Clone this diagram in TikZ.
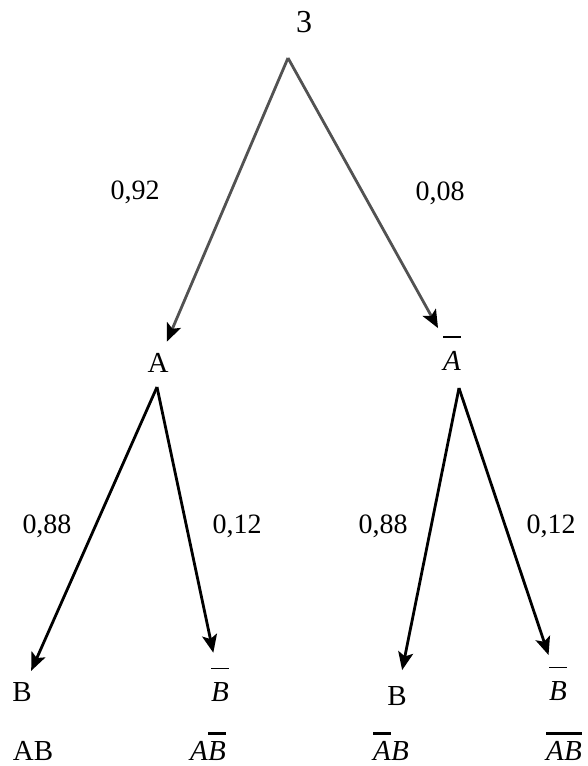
\documentclass[tikz,border=0pt]{standalone}
\usepackage{fontspec}
\setmainfont{Liberation Serif}
\usetikzlibrary{arrows.meta}
\tikzset{
  tr event/.style={inner sep=0pt,anchor=base,font=\fontsize{29}{32}\selectfont},
  tr prob/.style={inner sep=0pt,anchor=base,font=\fontsize{28}{32}\selectfont},
  tr edge/.style={black,line width=2.8pt,shorten >=12pt,
    -{Stealth[length=18pt,width=15pt,inset=4pt]}},
  tr top edge/.style={tr edge,draw=black!68,
    -{Stealth[length=18pt,width=15pt,inset=4pt,color=black]}}
}
\newcommand{\trbar}[3]{\vbox{\hrule height #1\kern #2\hbox{#3}}}

\begin{document}
\begin{tikzpicture}[x=1pt,y=-1pt]
  \useasboundingbox (0,0) rectangle (588,766);
  \node[tr event,font=\fontsize{32}{36}\selectfont] (t) at (304,32) {3};
  \coordinate (root) at (288,58);
  \node[tr event] (a) at (158,372) {A};
  \node[tr event] (abar) at (452,370) {\trbar{1.4pt}{13pt}{\textit{A}}};
  \coordinate (sa) at (157,387);
  \coordinate (sabar) at (459,388);
  \node[tr event] (b1) at (22,701) {B};
  \node[tr event] (b2) at (220,701) {\trbar{1.4pt}{13pt}{\textit{B}}};
  \node[tr event] (b3) at (397,705) {B};
  \node[tr event] (b4) at (558,700) {\trbar{1.4pt}{13pt}{\textit{B}}};
  \node[tr event] (p1) at (33,760) {AB};
  \node[tr event] (p2) at (208,760) {\textit{A}\trbar{3.2pt}{6pt}{\textit{B}}};
  \node[tr event] (p3) at (391,760) {\trbar{3.2pt}{6pt}{\textit{A}}\textit{B}};
  \node[tr event] (p4) at (564,760) {\trbar{3.2pt}{6pt}{\textit{A}}\trbar{3.2pt}{6pt}{\textit{B}}};
  % probabilities
  \node[tr prob] (q1) at (135,199) {0,92};
  \node[tr prob] (q2) at (440,200) {0,08};
  \node[tr prob] (q3) at (47,533) {0,88};
  \node[tr prob] (q4) at (237,533) {0,12};
  \node[tr prob] (q5) at (383,533) {0,88};
  \node[tr prob] (q6) at (551,533) {0,12};
  \draw[tr top edge] (root)--(a);
  \draw[tr top edge,shorten >=10pt] (root)--(abar);
  \draw[tr edge] (sa)--(b1);
  \draw[tr edge,shorten >=15pt] (sa)--(b2);
  \draw[tr edge,shorten >=16pt] (sabar)--(b3);
  \draw[tr edge] (sabar)--(b4);
\end{tikzpicture}
\end{document}
